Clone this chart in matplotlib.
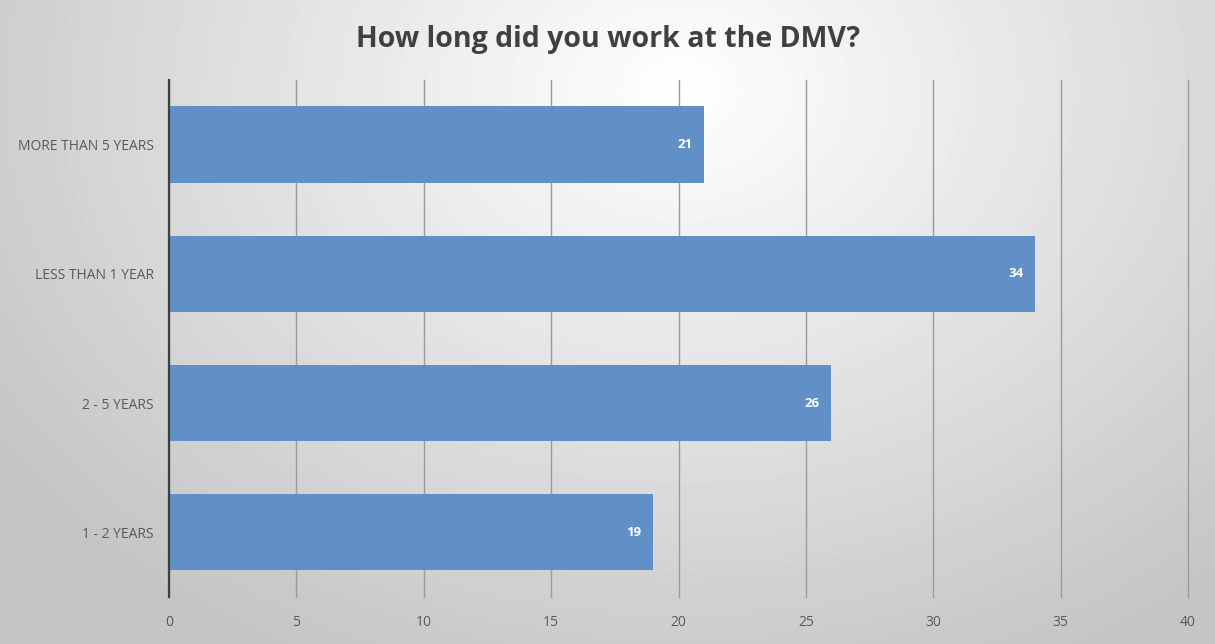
import numpy as np
import matplotlib
matplotlib.use("Agg")
import matplotlib.pyplot as plt

categories = ["1 - 2 YEARS", "2 - 5 YEARS", "LESS THAN 1 YEAR", "MORE THAN 5 YEARS"]
counts = [19, 26, 34, 21]
x_ticks = [0, 5, 10, 15, 20, 25, 30, 35, 40]
title = "How long did you work at the DMV?"

bar_color = "#6190c8"
plt.rcParams["font.family"] = ["Open Sans", "DejaVu Sans"]

fig = plt.figure(figsize=(12.15, 6.44), dpi=100)

# radial gradient background
bg = fig.add_axes([0, 0, 1, 1], zorder=0)
yy, xx = np.mgrid[0:644, 0:1215]
r = np.sqrt(((xx - 680) / 900.0) ** 2 + ((yy - 90) / 700.0) ** 2)
shade = np.clip(1.0 - 0.25 * r, 0.77, 1.0)
bg.imshow(shade, cmap="gray", vmin=0, vmax=1, aspect="auto",
          extent=[0, 1, 0, 1], origin="upper", interpolation="bilinear")
bg.set_xlim(0, 1)
bg.set_ylim(0, 1)
bg.axis("off")

ax = fig.add_axes([0.1391, 0.0730, 0.8387, 0.8028], zorder=1)
ax.patch.set_alpha(0)
y = np.arange(len(categories))
bars = ax.barh(y, counts, height=0.59, color=bar_color, zorder=3)

for b, v in zip(bars, counts):
    ax.text(b.get_width() - 0.45, b.get_y() + b.get_height() / 2, str(v),
            ha="right", va="center", color="white", fontsize=9.5,
            fontweight="bold", zorder=4)

ax.set_xlim(0, 40)
ax.set_ylim(-0.5, 3.5)
ax.set_xticks(x_ticks)
ax.set_yticks(y)
ax.set_yticklabels(categories)
ax.tick_params(axis="both", length=0, labelsize=10, labelcolor="#595959")
ax.tick_params(axis="x", pad=13)
ax.tick_params(axis="y", pad=11)
ax.grid(axis="x", color="#9a9a9a", linewidth=1.0, zorder=1, clip_on=False)
for s in ["top", "right", "bottom"]:
    ax.spines[s].set_visible(False)
ax.spines["left"].set_color("#404040")
ax.spines["left"].set_linewidth(1.6)
ax.spines["left"].set_zorder(5)

fig.text(0.5004, 0.938, title, ha="center", va="center", fontsize=20.5,
         fontweight="bold", color="#404040")

fig.savefig("out.png", dpi=100)
